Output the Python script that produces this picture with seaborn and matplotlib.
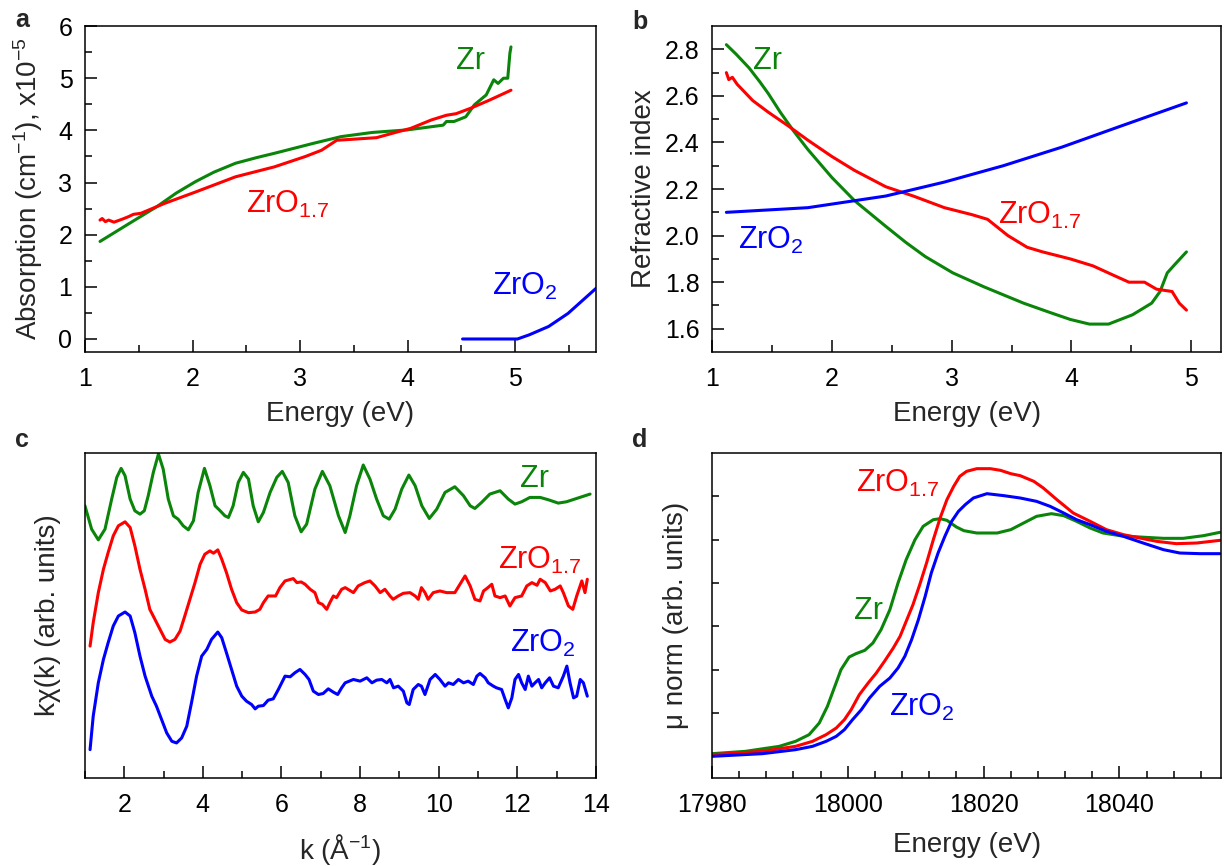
import numpy as np
import pandas as pd
import matplotlib
matplotlib.use("Agg")
import matplotlib.pyplot as plt
import seaborn as sns

# ---- panel a: absorption ----
a_zr_x = [1.14, 1.4, 1.67, 1.85, 2.03, 2.2, 2.40, 2.6, 2.76, 2.95, 3.12, 3.38, 3.67, 4.0, 4.22, 4.33, 4.36, 4.43, 4.54, 4.62, 4.73, 4.80, 4.84, 4.89, 4.93, 4.95, 4.96]
a_zr_y = [1.87, 2.2, 2.54, 2.8, 3.02, 3.2, 3.37, 3.48, 3.56, 3.66, 3.75, 3.88, 3.96, 4.01, 4.07, 4.1, 4.17, 4.17, 4.26, 4.49, 4.68, 4.97, 4.90, 5.0, 5.0, 5.48, 5.60]
a_zro17_x = [1.14, 1.16, 1.19, 1.22, 1.27, 1.35, 1.41, 1.45, 1.52, 1.74, 2.03, 2.40, 2.76, 3.05, 3.20, 3.34, 3.49, 3.71, 3.85, 4.03, 4.22, 4.36, 4.45, 4.58, 4.76, 4.96]
a_zro17_y = [2.28, 2.31, 2.25, 2.28, 2.24, 2.30, 2.35, 2.39, 2.41, 2.60, 2.82, 3.11, 3.30, 3.50, 3.62, 3.81, 3.83, 3.86, 3.94, 4.04, 4.20, 4.29, 4.32, 4.42, 4.58, 4.77]
a_zro2_x = [4.51, 5.02, 5.13, 5.31, 5.49, 5.75]
a_zro2_y = [0.0, 0.0, 0.08, 0.24, 0.49, 0.97]

# ---- panel b: refractive index ----
b_zr_x = [1.12, 1.2, 1.31, 1.4, 1.47, 1.57, 1.68, 1.80, 2.0, 2.19, 2.45, 2.62, 2.78, 3.01, 3.27, 3.60, 3.82, 3.99, 4.15, 4.31, 4.41, 4.51, 4.67, 4.74, 4.80, 4.87, 4.96]
b_zr_y = [2.82, 2.78, 2.72, 2.66, 2.61, 2.53, 2.45, 2.37, 2.25, 2.15, 2.04, 1.97, 1.91, 1.84, 1.78, 1.71, 1.67, 1.64, 1.62, 1.62, 1.64, 1.66, 1.71, 1.76, 1.84, 1.88, 1.93]
b_zro17_x = [1.12, 1.14, 1.17, 1.21, 1.34, 1.47, 1.64, 1.80, 2.0, 2.19, 2.45, 2.68, 2.94, 3.17, 3.30, 3.47, 3.63, 3.76, 3.99, 4.18, 4.35, 4.48, 4.61, 4.71, 4.84, 4.90, 4.96]
b_zro17_y = [2.70, 2.67, 2.68, 2.65, 2.58, 2.53, 2.47, 2.41, 2.34, 2.28, 2.21, 2.17, 2.12, 2.09, 2.07, 2.00, 1.95, 1.93, 1.90, 1.87, 1.83, 1.80, 1.80, 1.77, 1.76, 1.71, 1.68]
b_zro2_x = [1.12, 1.80, 2.45, 2.94, 3.43, 3.92, 4.41, 4.96]
b_zro2_y = [2.10, 2.12, 2.17, 2.23, 2.30, 2.38, 2.47, 2.57]

# ---- panel c: EXAFS k*chi(k), offset traces ----
c_zr_k = [1.00, 1.17, 1.34, 1.51, 1.68, 1.81, 1.92, 2.02, 2.15, 2.27, 2.40, 2.51, 2.61, 2.74, 2.87, 2.99, 3.12, 3.25, 3.37, 3.50, 3.63, 3.76, 3.88, 4.04, 4.18, 4.31, 4.44, 4.56, 4.65, 4.77, 4.90, 5.03, 5.16, 5.28, 5.41, 5.54, 5.71, 5.88, 6.02, 6.17, 6.34, 6.50, 6.64, 6.85, 7.04, 7.23, 7.45, 7.62,
          7.74, 7.91, 8.08, 8.25, 8.42, 8.59, 8.74, 8.89, 9.06, 9.24, 9.40, 9.57, 9.76, 9.95, 10.16, 10.41, 10.63, 10.80, 10.92, 11.09, 11.30, 11.56, 11.77, 11.94, 12.11, 12.32, 12.58, 12.79, 13.04, 13.25, 13.51, 13.85]
c_zr_chi = [8.15, 7.45, 7.13, 7.45, 8.35, 9.00, 9.27, 9.05, 8.35, 8.00, 7.90, 8.00, 8.45, 9.15, 9.70, 9.25, 8.35, 7.85, 7.75, 7.55, 7.43, 7.70, 8.55, 9.27, 8.75, 8.15, 8.00, 7.85, 7.80, 8.15, 8.85, 9.15, 8.95, 8.15, 7.67, 7.95, 8.55, 9.00, 9.18, 8.85, 7.85, 7.37, 7.60, 8.65, 9.18, 8.75, 7.85, 7.35,
            7.85, 8.75, 9.37, 8.95, 8.35, 7.85, 7.75, 8.05, 8.65, 9.07, 8.75, 8.15, 7.77, 8.05, 8.55, 8.72, 8.45, 8.15, 8.07, 8.25, 8.50, 8.60, 8.35, 8.20, 8.27, 8.40, 8.40, 8.33, 8.23, 8.27, 8.37, 8.50]
c_zro17_k = [1.13, 1.21, 1.34, 1.47, 1.59, 1.72, 1.85, 2.02, 2.15, 2.27, 2.40, 2.53, 2.65, 2.78, 2.91, 3.04, 3.16, 3.29, 3.42, 3.54, 3.67, 3.80, 3.93, 4.05, 4.18, 4.27, 4.38, 4.48, 4.60, 4.73, 4.86, 4.99, 5.16, 5.33, 5.45, 5.54, 5.66, 5.85, 5.96, 6.09, 6.30, 6.39, 6.50, 6.60, 6.73, 6.85, 6.94, 7.04, 7.15, 7.23, 7.32, 7.40, 7.53, 7.62,
             7.83, 7.95, 8.12, 8.25, 8.38, 8.51, 8.63, 8.76, 8.84, 8.97, 9.10, 9.27, 9.40, 9.48, 9.56, 9.65, 9.73, 9.86, 10.03, 10.20, 10.41, 10.54, 10.67, 10.80, 10.92, 11.05, 11.14, 11.22, 11.35, 11.43, 11.56, 11.69, 11.81, 11.94, 12.11, 12.24, 12.37, 12.50, 12.58, 12.71, 12.84, 12.96, 13.09, 13.17, 13.30, 13.41, 13.51, 13.64, 13.72, 13.78]
c_zro17_chi = [3.95, 4.65, 5.55, 6.25, 6.75, 7.25, 7.55, 7.67, 7.50, 6.95, 6.25, 5.65, 5.05, 4.75, 4.45, 4.15, 4.07, 4.15, 4.40, 4.85, 5.35, 5.85, 6.40, 6.70, 6.80, 6.73, 6.83, 6.55, 6.15, 5.65, 5.25, 5.03, 4.95, 4.97, 5.05, 5.25, 5.45, 5.45, 5.70, 5.90, 5.97, 5.85, 5.87, 5.80, 5.65, 5.55, 5.25, 5.20, 5.05, 5.25, 5.45, 5.40, 5.65, 5.70,
               5.55, 5.75, 5.85, 5.90, 5.75, 5.55, 5.65, 5.45, 5.35, 5.45, 5.53, 5.55, 5.45, 5.35, 5.70, 5.55, 5.35, 5.55, 5.60, 5.55, 5.55, 5.80, 6.05, 5.75, 5.35, 5.30, 5.60, 5.67, 5.80, 5.45, 5.40, 5.45, 5.15, 5.40, 5.45, 5.75, 5.85, 5.77, 5.95, 5.85, 5.60, 5.65, 5.75, 5.55, 5.15, 5.05, 5.45, 5.90, 5.55, 5.95]
c_zro2_k = [1.13, 1.21, 1.34, 1.47, 1.59, 1.72, 1.85, 2.02, 2.15, 2.27, 2.40, 2.53, 2.70, 2.82, 2.95, 3.08, 3.21, 3.33, 3.46, 3.59, 3.71, 3.84, 3.97, 4.10, 4.22, 4.38, 4.48, 4.60, 4.73, 4.86, 4.99, 5.11, 5.24, 5.33, 5.41, 5.54, 5.66, 5.79, 5.92, 6.09, 6.22, 6.34, 6.47, 6.60, 6.70, 6.81, 6.94, 7.06, 7.19, 7.32, 7.43, 7.53, 7.62,
            7.83, 8.00, 8.17, 8.30, 8.42, 8.55, 8.68, 8.76, 8.85, 8.97, 9.10, 9.19, 9.25, 9.35, 9.48, 9.56, 9.65, 9.78, 9.91, 10.03, 10.16, 10.25, 10.37, 10.50, 10.63, 10.75, 10.88, 10.97, 11.05, 11.18, 11.26, 11.39, 11.47, 11.60, 11.69, 11.77, 11.86, 11.94, 12.03, 12.11, 12.20, 12.28, 12.37, 12.45, 12.54, 12.62, 12.71, 12.82, 12.92, 13.04, 13.17, 13.26, 13.34, 13.43, 13.51, 13.60, 13.68, 13.78]
c_zro2_chi = [0.85, 1.85, 2.85, 3.55, 4.05, 4.55, 4.85, 4.97, 4.85, 4.35, 3.65, 3.05, 2.45, 2.15, 1.75, 1.35, 1.10, 1.05, 1.20, 1.55, 2.25, 3.05, 3.65, 3.85, 4.15, 4.37, 4.20, 3.75, 3.25, 2.75, 2.45, 2.30, 2.20, 2.07, 2.15, 2.17, 2.33, 2.37, 2.65, 3.05, 3.03, 3.15, 3.25, 3.10, 2.95, 2.60, 2.50, 2.53, 2.67, 2.57, 2.50, 2.70, 2.85,
              2.95, 2.90, 3.00, 2.85, 2.93, 2.95, 2.85, 2.95, 2.70, 2.75, 2.60, 2.25, 2.20, 2.65, 2.80, 2.75, 2.50, 2.95, 3.10, 2.95, 2.75, 2.85, 2.80, 2.95, 2.85, 2.90, 2.80, 3.05, 3.13, 3.00, 2.85, 2.75, 2.70, 2.65, 2.35, 2.10, 2.40, 2.95, 3.10, 2.85, 2.65, 3.05, 2.75, 2.85, 2.95, 2.70, 2.85, 3.00, 2.75, 2.70, 3.05, 3.35, 2.85, 2.40, 2.45, 2.95, 2.85, 2.45]

# ---- panel d: XANES ----
d_zr_e = [17980, 17984.9, 17989.9, 17992.3, 17994.3, 17995.8, 17997.0, 17998.0, 17999.0, 18000.2, 18001.2, 18002.5, 18003.7, 18004.9, 18006.2, 18007.4, 18008.6, 18009.9, 18011.1, 18012.6, 18013.6, 18014.6, 18016.0, 18017.1, 18019.0, 18022.0, 18024.0, 18025.9, 18027.8, 18030.0, 18031.8, 18033.7, 18035.7, 18037.6, 18040.1, 18043.0, 18046.5, 18049.4, 18052.4, 18054.8]
d_zr_mu = [0.73, 0.80, 0.95, 1.10, 1.30, 1.65, 2.15, 2.70, 3.25, 3.63, 3.73, 3.83, 4.05, 4.45, 5.05, 5.85, 6.55, 7.15, 7.55, 7.75, 7.78, 7.73, 7.53, 7.42, 7.35, 7.35, 7.45, 7.65, 7.85, 7.93, 7.87, 7.70, 7.50, 7.35, 7.27, 7.23, 7.19, 7.19, 7.27, 7.37]
d_zro17_e = [17980, 17987.4, 17992.3, 17994.8, 17996.8, 17998.3, 17999.5, 18000.5, 18001.7, 18003.0, 18004.2, 18005.4, 18006.7, 18007.7, 18008.6, 18009.6, 18010.6, 18011.6, 18012.6, 18013.6, 18014.6, 18015.6, 18016.5, 18017.5, 18019.0, 18021.0, 18022.5, 18024.0, 18025.4, 18027.4, 18028.8, 18030.8, 18033.2, 18035.7, 18038.1, 18040.6, 18043.0, 18045.5, 18048.4, 18051.4, 18054.8]
d_zro17_mu = [0.70, 0.80, 0.95, 1.10, 1.30, 1.50, 1.75, 2.05, 2.50, 2.85, 3.15, 3.50, 3.90, 4.25, 4.70, 5.20, 5.80, 6.45, 7.15, 7.80, 8.35, 8.75, 9.05, 9.20, 9.28, 9.28, 9.23, 9.13, 9.07, 8.90, 8.70, 8.35, 7.95, 7.70, 7.45, 7.30, 7.20, 7.10, 7.03, 7.05, 7.13]
d_zro2_e = [17980, 17987.4, 17992.3, 17994.8, 17996.8, 17998.3, 17999.5, 18000.7, 18002.0, 18003.2, 18004.7, 18006.2, 18007.4, 18008.4, 18009.4, 18010.4, 18011.4, 18012.3, 18013.3, 18014.3, 18015.3, 18016.3, 18017.3, 18018.5, 18020.5, 18023.0, 18025.4, 18027.8, 18029.8, 18031.8, 18033.7, 18035.7, 18038.1, 18040.6, 18043.5, 18046.5, 18048.9, 18051.9, 18054.8]
d_zro2_mu = [0.65, 0.73, 0.85, 0.95, 1.10, 1.25, 1.45, 1.75, 2.05, 2.40, 2.75, 3.00, 3.30, 3.65, 4.15, 4.75, 5.45, 6.15, 6.75, 7.25, 7.70, 8.00, 8.20, 8.40, 8.53, 8.47, 8.40, 8.30, 8.15, 7.95, 7.75, 7.60, 7.40, 7.25, 7.05, 6.85, 6.75, 6.73, 6.73]
d_ytick_pos = [1.95, 3.25, 4.55, 5.85, 7.15, 8.45]

GREEN, RED, BLUE = "#0a850a", "#ff0000", "#0000ff"
LW = 2.2

sns.set_style("ticks")
plt.rcParams["font.family"] = ["Liberation Sans", "DejaVu Sans"]
plt.rcParams["mathtext.fontset"] = "custom"
plt.rcParams["mathtext.rm"] = "Liberation Sans"
plt.rcParams["mathtext.it"] = "Liberation Sans:italic"
plt.rcParams["axes.linewidth"] = 1.1

fig = plt.figure(figsize=(12.24, 8.66), dpi=100)
ax_a = fig.add_axes([0.0694, 0.5935, 0.4175, 0.3764])
ax_b = fig.add_axes([0.5817, 0.5935, 0.4160, 0.3764])
ax_c = fig.add_axes([0.0694, 0.1016, 0.4175, 0.3753])
ax_d = fig.add_axes([0.5817, 0.1016, 0.4160, 0.3753])

def line(ax, x, y, c):
    sns.lineplot(x=x, y=y, color=c, lw=LW, ax=ax, sort=False, estimator=None)

def style(ax):
    for s in ax.spines.values():
        s.set_visible(True); s.set_color("black")
    ax.tick_params(which="both", direction="in", top=False, right=False, colors="black")
    ax.tick_params(which="major", length=8.5, width=1.1, labelsize=18, pad=9)
    ax.tick_params(which="minor", length=5, width=1.1)

ann = dict(fontsize=22, va="baseline", ha="left")
s17 = r"ZrO$_{\mathregular{1.7}}$"
s2 = r"ZrO$_{\mathregular{2}}$"

# a
line(ax_a, a_zr_x, a_zr_y, GREEN)
line(ax_a, a_zro17_x, a_zro17_y, RED)
line(ax_a, a_zro2_x, a_zro2_y, BLUE)
ax_a.set_xlim(1, 5.75); ax_a.set_ylim(-0.25, 6)
ax_a.set_xticks([1, 2, 3, 4, 5]); ax_a.set_xticks(np.arange(1.5, 5.75, 1.0), minor=True)
ax_a.set_yticks(range(7)); ax_a.set_yticks(np.arange(0.5, 6, 1.0), minor=True)
ax_a.set_xlabel("Energy (eV)", fontsize=20)
ax_a.set_ylabel(r"Absorption (cm$^{\mathregular{-1}}$), x10$^{\mathregular{-5}}$", fontsize=20)
ax_a.text(4.45, 5.17, "Zr", color=GREEN, **ann)
ax_a.text(2.5, 2.42, s17, color=RED, **ann)
ax_a.text(4.78, 0.84, s2, color=BLUE, **ann)

# b
line(ax_b, b_zr_x, b_zr_y, GREEN)
line(ax_b, b_zro17_x, b_zro17_y, RED)
line(ax_b, b_zro2_x, b_zro2_y, BLUE)
ax_b.set_xlim(1, 5.25); ax_b.set_ylim(1.5, 2.9)
ax_b.set_xticks([1, 2, 3, 4, 5]); ax_b.set_xticks(np.arange(1.5, 5.0, 1.0), minor=True)
ax_b.set_yticks(np.arange(1.6, 2.81, 0.2)); ax_b.set_yticks(np.arange(1.7, 2.8, 0.2), minor=True)
ax_b.yaxis.set_major_formatter(matplotlib.ticker.FormatStrFormatter("%.1f"))
ax_b.set_xlabel("Energy (eV)", fontsize=20)
ax_b.set_ylabel("Refractive index", fontsize=20)
ax_b.text(1.34, 2.714, "Zr", color=GREEN, **ann)
ax_b.text(3.39, 2.05, s17, color=RED, **ann)
ax_b.text(1.22, 1.944, s2, color=BLUE, **ann)

# c
line(ax_c, c_zr_k, c_zr_chi, GREEN)
line(ax_c, c_zro17_k, c_zro17_chi, RED)
line(ax_c, c_zro2_k, c_zro2_chi, BLUE)
ax_c.set_xlim(1, 14); ax_c.set_ylim(0, 9.73)
ax_c.set_xticks(range(2, 15, 2)); ax_c.set_xticks(range(1, 14, 2), minor=True)
ax_c.set_yticks([])
ax_c.set_xlabel(r"k (Å$^{\mathregular{-1}}$)", fontsize=20)
ax_c.set_ylabel("kχ(k) (arb. units)", fontsize=20)
ax_c.text(12.08, 8.7, "Zr", color=GREEN, **ann)
ax_c.text(11.52, 6.27, s17, color=RED, **ann)
ax_c.text(11.82, 3.77, s2, color=BLUE, **ann)

# d
line(ax_d, d_zr_e, d_zr_mu, GREEN)
line(ax_d, d_zro17_e, d_zro17_mu, RED)
line(ax_d, d_zro2_e, d_zro2_mu, BLUE)
ax_d.set_xlim(17980, 18055); ax_d.set_ylim(0, 9.75)
ax_d.set_xticks([17980, 18000, 18020, 18040]); ax_d.set_xticks(np.arange(17984, 18055, 4), minor=True)
ax_d.xaxis.set_major_formatter(matplotlib.ticker.FormatStrFormatter("%d"))
ax_d.set_yticks(d_ytick_pos); ax_d.set_yticklabels([])
ax_d.set_xlabel("Energy (eV)", fontsize=20)
ax_d.set_ylabel("μ norm (arb. units)", fontsize=20)
ax_d.text(18001.15, 8.57, s17, color=RED, **ann)
ax_d.text(18000.9, 4.77, "Zr", color=GREEN, **ann)
ax_d.text(18006.1, 1.87, s2, color=BLUE, **ann)

for ax in (ax_a, ax_b, ax_c, ax_d):
    style(ax)
    ax.tick_params(axis="x", which="major", pad=11)
ax_d.tick_params(axis="y", which="major", length=5)

ax_a.yaxis.set_label_coords(-0.079, 0.5)
ax_b.yaxis.set_label_coords(-0.108, 0.5)
ax_c.yaxis.set_label_coords(-0.047, 0.5)
ax_d.yaxis.set_label_coords(-0.045, 0.5)
for ax in (ax_a, ax_b):
    ax.xaxis.set_label_coords(0.5, -0.15)
for ax in (ax_c, ax_d):
    ax.xaxis.set_label_coords(0.5, -0.166)

for lab, x, y in [("a", 22, 20), ("b", 640, 22), ("c", 22, 440), ("d", 640, 440)]:
    fig.text(x / 1224, 1 - y / 866, lab, fontsize=18, fontweight="bold", ha="center", va="center")

fig.savefig("out.png", dpi=100)
